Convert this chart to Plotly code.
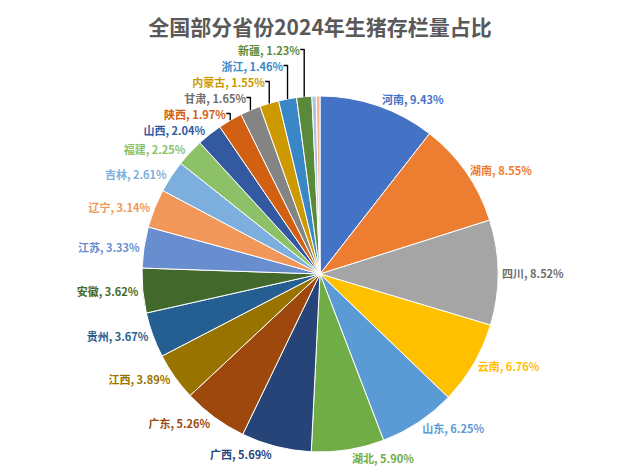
import plotly.graph_objects as go

provinces = ["河南", "湖南", "四川", "云南", "山东", "湖北", "广西", "广东", "江西", "贵州",
             "安徽", "江苏", "辽宁", "吉林", "福建", "山西", "陕西", "甘肃", "内蒙古", "浙江",
             "新疆", "其他1", "其他2"]
shares = [9.43, 8.55, 8.52, 6.76, 6.25, 5.90, 5.69, 5.26, 3.89, 3.67,
          3.62, 3.33, 3.14, 2.61, 2.25, 2.04, 1.97, 1.65, 1.55, 1.46,
          1.23, 0.35, 0.30]
colors = ["#4472C4", "#ED7D31", "#A5A5A5", "#FFC000", "#5B9BD5", "#70AD47",
          "#264478", "#9E480E", "#997300", "#255E91", "#43682B", "#698ED0",
          "#F1975A", "#7CAFDD", "#8CC168", "#335AA1", "#D26012", "#848484",
          "#CC9A00", "#3A87C8", "#5A8A39", "#A9C4E8", "#F5B78E"]

texts = [f"<b>{p}, {s:.2f}%</b>" if not p.startswith("其他") else "" for p, s in zip(provinces, shares)]
label_colors = [c if c not in ("#A5A5A5", "#848484") else "#6F6F6F" for c in colors]

fig = go.Figure(go.Pie(
    labels=provinces, values=shares, text=texts, textinfo="text",
    textposition="outside", sort=False, direction="clockwise", rotation=0,
    marker=dict(colors=colors, line=dict(color="white", width=1)),
    outsidetextfont=dict(color=label_colors, size=11, family="Noto Sans CJK SC"),
    showlegend=False,
))
fig.update_layout(
    width=624, height=472, paper_bgcolor="white",
    margin=dict(l=130, r=130, t=88, b=28),
    title=dict(text="<b>全国部分省份2024年生猪存栏量占比</b>", x=0.5, y=0.975,
               font=dict(size=21, color="#595959", family="Noto Sans CJK SC")),
)
fig.write_html("out.html")
